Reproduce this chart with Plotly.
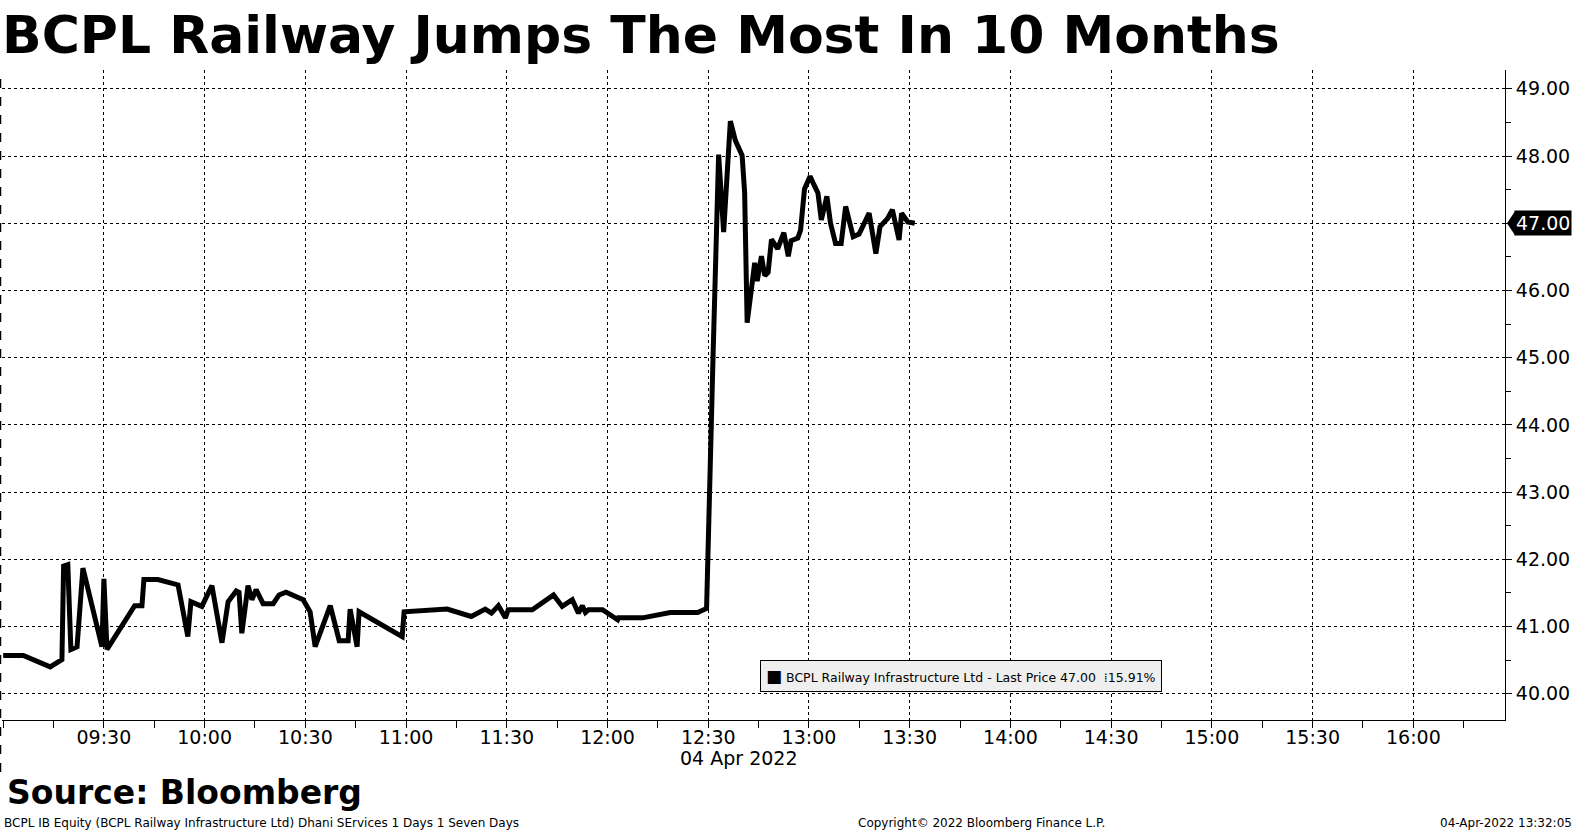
import plotly.graph_objects as go

# intraday prints (04 Apr 2022)
times = [
    "09:00:00", "09:06:00", "09:14:00", "09:17:30", "09:18:00", "09:19:15", "09:20:10",
    "09:22:00", "09:23:45", "09:29:25", "09:30:00", "09:30:55", "09:39:10", "09:41:20",
    "09:41:55", "09:46:05", "09:52:05", "09:55:00", "09:55:55", "09:59:10", "10:02:10",
    "10:05:10", "10:07:00", "10:09:25", "10:10:15", "10:11:05", "10:12:55", "10:14:05",
    "10:15:20", "10:17:25", "10:20:25", "10:22:10", "10:24:15", "10:29:20", "10:31:25",
    "10:32:55", "10:37:25", "10:40:05", "10:42:45", "10:43:20", "10:45:25", "10:46:00",
    "10:58:50", "10:59:25", "11:12:15", "11:19:25", "11:23:35", "11:25:25", "11:27:30",
    "11:29:35", "11:30:25", "11:37:35", "11:43:55", "11:46:30", "11:49:30", "11:51:20",
    "11:52:30", "11:53:25", "11:54:20", "11:58:30", "12:03:00", "12:03:15", "12:10:25",
    "12:18:40", "12:26:50", "12:29:30", "12:31:25", "12:33:05", "12:34:35", "12:36:35",
    "12:38:05", "12:40:05", "12:40:50", "12:41:35", "12:43:50", "12:44:35", "12:45:50",
    "12:46:50", "12:47:50", "12:48:50", "12:50:40", "12:52:30", "12:53:50", "12:54:40",
    "12:56:40", "12:57:30", "12:58:40", "13:00:20", "13:01:30", "13:02:40", "13:03:40",
    "13:05:20", "13:06:25", "13:07:55", "13:09:35", "13:10:55", "13:13:10", "13:14:55",
    "13:17:55", "13:19:55", "13:21:10", "13:23:25", "13:24:50", "13:26:50", "13:27:35",
    "13:29:25", "13:31:30",
]
prices = [
    40.57, 40.57, 40.40, 40.51, 41.90, 41.92, 40.66,
    40.70, 41.87, 40.70, 41.71, 40.66, 41.31, 41.31,
    41.70, 41.70, 41.62, 40.85, 41.37, 41.30, 41.61,
    40.76, 41.37, 41.53, 41.51, 40.90, 41.61, 41.40,
    41.55, 41.34, 41.34, 41.47, 41.51, 41.40, 41.22,
    40.70, 41.31, 40.79, 40.79, 41.26, 40.70, 41.22,
    40.85, 41.22, 41.26, 41.15, 41.26, 41.20, 41.31,
    41.13, 41.25, 41.25, 41.47, 41.30, 41.40, 41.20,
    41.31, 41.21, 41.25, 41.25, 41.10, 41.13, 41.13,
    41.21, 41.21, 41.27, 45.00, 48.02, 46.87, 48.52,
    48.23, 48.01, 47.46, 45.52, 46.41, 46.14, 46.51,
    46.22, 46.27, 46.76, 46.62, 46.86, 46.51, 46.74,
    46.78, 46.90, 47.51, 47.70, 47.57, 47.45, 47.05,
    47.40, 47.00, 46.70, 46.70, 47.25, 46.80, 46.84,
    47.15, 46.55, 46.95, 47.07, 47.20, 46.75, 47.15,
    47.02, 47.00,
]
day = "2022-04-04"
x_ticks = ["09:30", "10:00", "10:30", "11:00", "11:30", "12:00", "12:30",
           "13:00", "13:30", "14:00", "14:30", "15:00", "15:30", "16:00"]
last_price = 47.00
pct_change = 15.91

FONT = "DejaVu Sans"

fig = go.Figure()
fig.add_trace(go.Scatter(
    x=[f"{day} {t}" for t in times], y=prices, mode="lines",
    line=dict(color="black", width=5), hoverinfo="x+y", showlegend=False))

fig.update_layout(
    width=1574, height=835,
    margin=dict(l=2, r=69, t=70, b=115, pad=0),
    paper_bgcolor="white", plot_bgcolor="white",
    font=dict(family=FONT, color="black"),
)

fig.update_xaxes(
    type="date",
    range=[f"{day} 08:59:39", f"{day} 16:27:18"],
    tickvals=[f"{day} {t}" for t in x_ticks], ticktext=x_ticks,
    tickfont=dict(size=19, family=FONT),
    ticks="",
    minor=dict(dtick=15 * 60 * 1000, tick0=f"{day} 09:00", ticks="outside",
               ticklen=7, tickcolor="black", showgrid=False),
    showgrid=True, gridcolor="black", gridwidth=1, griddash="dot",
    showline=True, linecolor="black", linewidth=1,
    zeroline=False,
)

fig.update_yaxes(
    side="right",
    range=[39.61, 49.28],
    dtick=1, tick0=40, tickformat=".2f",
    tickfont=dict(size=19, family=FONT),
    ticks="outside", ticklen=6, tickcolor="black",
    minor=dict(dtick=0.5, tick0=40, ticks="outside", ticklen=5,
               tickcolor="black", showgrid=False),
    showgrid=True, gridcolor="black", gridwidth=1, griddash="dot",
    showline=True, linecolor="black", linewidth=1,
    zeroline=False,
)

# dashed left border
fig.add_shape(type="line", xref="paper", yref="paper", x0=-0.001, x1=-0.001,
              y0=-0.08, y1=1, line=dict(color="black", width=1.5, dash="dash"))

# last price tag on the right axis
fig.add_shape(type="path", xref="paper", yref="y", xsizemode="pixel", ysizemode="pixel",
              xanchor=1, yanchor=last_price, path="M 2 0 L 10 -12 L 10 12 Z",
              fillcolor="black", line=dict(width=0))
fig.add_annotation(x=1, xref="paper", y=last_price, yref="y", xanchor="left",
                   xshift=9, text=f"{last_price:.2f}", showarrow=False,
                   bgcolor="black", borderpad=1,
                   font=dict(size=19, color="white", family=FONT))

# legend box
fig.add_annotation(x=0.638, xref="paper", y=0.067, yref="paper",
                   xanchor="center", yanchor="middle",
                   text=(f"<span style='font-size:17px'>■</span> BCPL Railway Infrastructure Ltd"
                         f" - Last Price {last_price:.2f}  ⁞{pct_change:.2f}%"),
                   showarrow=False, bgcolor="#efefef", bordercolor="black",
                   borderwidth=1, borderpad=5,
                   font=dict(size=12.5, family=FONT, color="black"))

# title, date label, source, footer
fig.add_annotation(x=-0.001, xref="paper", y=1.054, yref="paper", xanchor="left",
                   yanchor="middle", text="<b>BCPL Railway Jumps The Most In 10 Months</b>",
                   showarrow=False, font=dict(size=52, family=FONT, color="black"))
fig.add_annotation(x=f"{day} 12:39:00", xref="x", y=-0.058, yref="paper",
                   xanchor="center", yanchor="middle", text="04 Apr 2022", showarrow=False,
                   font=dict(size=19, family=FONT))
fig.add_annotation(x=0.002, xref="paper", y=-0.112, yref="paper", xanchor="left",
                   yanchor="middle", text="<b>Source: Bloomberg</b>", showarrow=False,
                   font=dict(size=33, family=FONT))
fig.add_annotation(x=0.0, xref="paper", y=-0.158, yref="paper", xanchor="left",
                   yanchor="middle",
                   text="BCPL IB Equity (BCPL Railway Infrastructure Ltd) Dhani SErvices 1 Days 1 Seven Days",
                   showarrow=False, font=dict(size=12, family=FONT))
fig.add_annotation(x=0.568, xref="paper", y=-0.158, yref="paper", xanchor="left",
                   yanchor="middle", text="Copyright© 2022 Bloomberg Finance L.P.",
                   showarrow=False, font=dict(size=12, family=FONT))
fig.add_annotation(x=1.046, xref="paper", y=-0.158, yref="paper", xanchor="right",
                   yanchor="middle", text="04-Apr-2022 13:32:05",
                   showarrow=False, font=dict(size=12, family=FONT))

fig.write_html("out.html", config={"displayModeBar": False},
               post_script="document.body.style.margin='0';document.body.style.overflow='hidden';")
